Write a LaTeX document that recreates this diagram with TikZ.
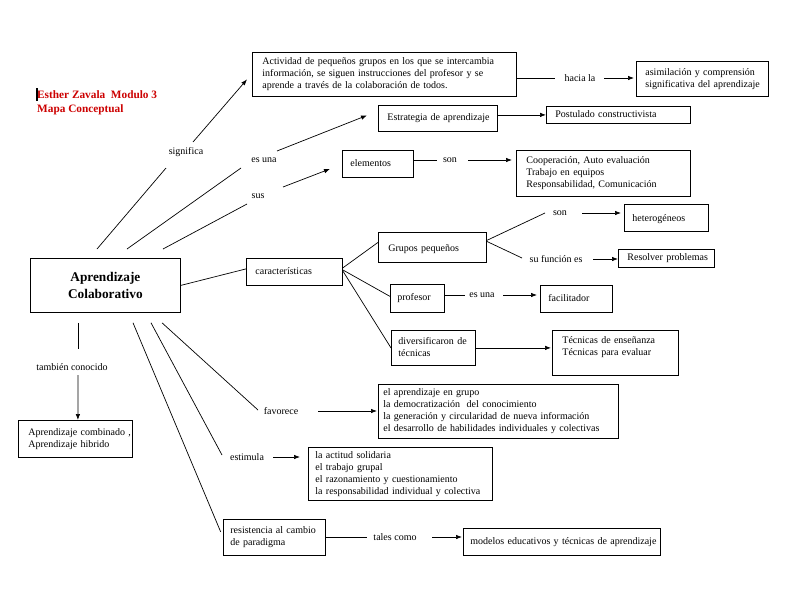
\documentclass[tikz,border=0pt]{standalone}
\usepackage{fontspec}
\setmainfont{Liberation Serif}
\usetikzlibrary{arrows.meta}
\definecolor{titlered}{RGB}{204,0,0}
\newcommand{\bodyfont}{\fontsize{10}{12}\selectfont}
\newcommand{\ml}[1]{\noindent\begin{tabular}{@{}l@{}}#1\end{tabular}}
\tikzset{
  box/.style={draw, line width=0.8pt, anchor=north west, align=left, inner ysep=0pt, inner xsep=9pt, font=\bodyfont},
  lbl/.style={font=\bodyfont, inner sep=0pt},
  lk/.style={line width=0.7pt},
  arr/.style={lk, -{Latex[length=6pt,width=4.5pt]}}
}
\begin{document}
\begin{tikzpicture}[x=1pt, y=-1pt]
    \useasboundingbox (0,0) rectangle (800,600);
    % title
    \node [anchor=north west, align=left, inner sep=0pt, text=titlered, font=\fontsize{11.3}{14}\selectfont\bfseries] (title) at (37,90) {Esther Zavala\ \ Modulo 3\\Mapa Conceptual};
    \fill ([shift={(-1.5,-2)}]title.north west) rectangle ([shift={(0.5,11)}]title.north west);
    % boxes
    \node [box, text width=244pt, inner xsep=10pt, minimum height=44pt] (act) at (252,52) {\ml{Actividad de pequeños grupos en los que se intercambia\\información, se siguen instrucciones del profesor y se\\aprende a través de la colaboración de todos.}};
    \node [box, text width=114pt, minimum height=35pt] (asim) at (636,61) {\ml{asimilación y comprensión\\significativa del aprendizaje}};
    \node [box, text width=101pt, minimum height=26pt] (estr) at (378,105) {\ml{Estrategia de aprendizaje}};
    \node [box, text width=126pt, minimum height=17pt] (post) at (546,106) {\ml{Postulado constructivista}};
    \node [box, text width=55pt, inner xsep=8pt, minimum height=27pt] (elem) at (342,150) {\ml{elementos}};
    \node [box, text width=154pt, inner xsep=10pt, minimum height=46pt] (coop) at (516,150) {\ml{Cooperación, Auto evaluación\\Trabajo en equipos\\Responsabilidad, Comunicación}};
    \node [box, text width=130pt, inner xsep=10pt, minimum height=54pt, align=center, font=\fontsize{13.3}{17}\selectfont\bfseries] (ac) at (30,258) {Aprendizaje\\Colaborativo};
    \node [box, text width=78pt, minimum height=27pt] (car) at (246,258) {\ml{características}};
    \node [box, text width=88pt, inner xsep=10pt, minimum height=30pt] (grup) at (378,232) {\ml{Grupos pequeños\\[-3pt]}};
    \node [box, text width=68pt, inner xsep=8pt, minimum height=27pt] (het) at (624,204) {\ml{heterogéneos\\[-3pt]}};
    \node [box, text width=78pt, minimum height=18pt] (res) at (618,249) {\ml{Resolver problemas}};
    \node [box, text width=40pt, inner xsep=7pt, minimum height=28pt] (prof) at (390,284) {\ml{profesor}};
    \node [box, text width=56pt, inner xsep=8pt, minimum height=27pt] (fac) at (540,285) {\ml{facilitador}};
    \node [box, text width=70pt, inner xsep=7pt, minimum height=35pt] (div) at (391,330) {\ml{diversificaron de\\técnicas}};
    \node [box, text width=106pt, inner xsep=10pt, minimum height=45pt] (tec) at (552,330) {\ml{Técnicas de enseñanza\\Técnicas para evaluar\\ \mbox{}}};
    \node [box, text width=94pt, inner xsep=10pt, minimum height=37pt] (comb) at (18,420) {\ml{Aprendizaje combinado ,\\Aprendizaje hibrido}};
    \node [box, text width=230pt, inner xsep=5pt, minimum height=54pt] (favbox) at (378,384) {\ml{el aprendizaje en grupo\\la democratización\ \ del conocimiento\\la generación y circularidad de nueva información\\el desarrollo de habilidades individuales y colectivas}};
    \node [box, text width=170pt, inner xsep=7pt, minimum height=53pt] (estbox) at (308,447) {\ml{la actitud solidaria\\el trabajo grupal\\el razonamiento y cuestionamiento\\la responsabilidad individual y colectiva}};
    \node [box, text width=88pt, inner xsep=7pt, minimum height=36pt] (resi) at (223,519) {\ml{resistencia al cambio\\de paradigma}};
    \node [box, text width=183pt, inner xsep=7pt, minimum height=27pt] (mod) at (463,528) {\ml{modelos educativos y técnicas de aprendizaje}};
    % link words
    \node [lbl] (signif) at (186,152) {significa};
    \node [lbl] (esuna) at (264,160) {es una};
    \node [lbl] (sus) at (258,196) {sus};
    \node [lbl] (hacia) at (580,78) {hacia la};
    \node [lbl] (son) at (450,160) {son};
    \node [lbl] (songr) at (560,213) {son};
    \node [lbl] (sufun) at (556,259) {su función es};
    \node [lbl] (esprof) at (482,295) {es una};
    \node [lbl] (tamb) at (72,367) {también conocido};
    \node [lbl] (fav) at (281,411) {favorece};
    \node [lbl] (estim) at (247,457) {estimula};
    \node [lbl] (tales) at (395,537) {tales como};
    % upper branches
    \draw [lk] ([shift={(67,-9)}]ac.north west) -- ([shift={(-20,16)}]signif.center);
    \draw [arr] ([shift={(7,-10)}]signif.center) -- ([shift={(-5,5)}]act.west);
    \draw [lk] ([shift={(97,-9)}]ac.north west) -- ([shift={(-23,8)}]esuna.center);
    \draw [arr] ([shift={(13,-9)}]esuna.center) -- ([shift={(-11,-3)}]estr.west);
    \draw [lk] ([shift={(133,-9)}]ac.north west) -- ([shift={(-11,8)}]sus.center);
    \draw [arr] ([shift={(25,-9)}]sus.center) -- ([shift={(-12,5)}]elem.west);
    \draw [lk] (act.east |- hacia) -- ([xshift=-25]hacia.center);
    \draw [arr, shorten >=2pt] ([xshift=24]hacia.center) -- (asim.west |- hacia);
    \draw [arr] (estr.east |- post.west) -- (post.west);
    \draw [lk] (elem.east |- son) -- ([xshift=-13]son.center);
    \draw [arr, shorten >=4pt] ([xshift=18]son.center) -- (coop.west |- son);
    % caracteristicas
    \draw [lk] (ac.east) -- ([shift={(0,-3)}]car.west);
    \draw [lk] ([shift={(0,-4)}]car.east) -- ([shift={(0,-5)}]grup.west);
    \draw [lk] ([shift={(0,-2)}]car.east) -- ([shift={(0,-2)}]prof.west);
    \draw [lk] ([shift={(0,-1)}]car.east) -- (div.west);
    \draw [lk] ([shift={(0,-7)}]grup.east) -- ([xshift=-15]songr.center);
    \draw [arr, shorten >=3pt] ([xshift=22]songr.center) -- (het.west |- songr);
    \draw [lk] ([shift={(0,-6)}]grup.east) -- ([shift={(-34,-1)}]sufun.center);
    \draw [arr] ([xshift=37]sufun.center) -- (res.west |- sufun);
    \draw [lk] (prof.east |- esprof) -- ([xshift=-17]esprof.center);
    \draw [arr, shorten >=3pt] ([xshift=21]esprof.center) -- (fac.west |- esprof);
    \draw [arr, shorten >=1pt] (div.east) -- (div.east -| tec.west);
    % lower branches
    \draw [lk] ([shift={(48,10)}]ac.south west) -- ([shift={(6,-18)}]tamb.center);
    \draw [arr] ([shift={(6,8)}]tamb.center) -- ([xshift=2.5]comb.north);
    \draw [lk] ([shift={(132,10)}]ac.south west) -- ([shift={(-23,-1)}]fav.center);
    \draw [arr, shorten >=1pt] ([xshift=37]fav.center) -- (favbox.west |- fav);
    \draw [lk] ([shift={(121,10)}]ac.south west) -- ([shift={(-25,-2)}]estim.center);
    \draw [arr, shorten >=8pt] ([xshift=26]estim.center) -- (estbox.west |- estim);
    \draw [lk, shorten >=6pt] ([shift={(103,10)}]ac.south west) -- (resi.west);
    \draw [lk] (resi.east |- tales) -- ([xshift=-28]tales.center);
    \draw [arr, shorten >=1pt] ([xshift=37]tales.center) -- (mod.west |- tales);
\end{tikzpicture}
\end{document}
